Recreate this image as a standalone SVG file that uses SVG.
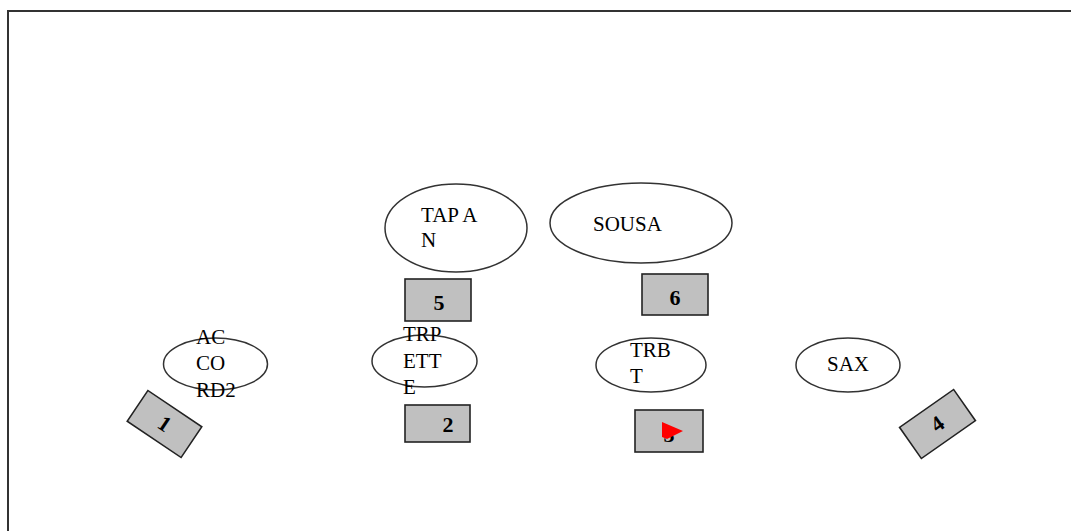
<svg xmlns="http://www.w3.org/2000/svg" width="1071" height="531" viewBox="0 0 1071 531">
<style>
.frame{fill:none;stroke:#333;stroke-width:2}
.ell{fill:#fff;stroke:#333;stroke-width:1.5}
.box{fill:#c0c0c0;stroke:#222;stroke-width:1.6}
.lbl{font-family:"Liberation Serif","Times New Roman",serif;font-size:21px;fill:#000}
.num{font-family:"Liberation Serif","Times New Roman",serif;font-size:22px;font-weight:bold;fill:#000;text-anchor:middle}
</style>
<rect width="1071" height="531" fill="#fff"/>
<rect class="frame" x="8" y="11" width="1100" height="600"/>
<g id="connectors"/>
<g id="node-tapan">
<ellipse class="ell" cx="456" cy="228" rx="71" ry="44"/>
<text class="lbl" x="421" y="222">TAP A</text>
<text class="lbl" x="421" y="247">N</text>
</g>
<g id="node-sousa">
<ellipse class="ell" cx="641" cy="223" rx="91" ry="40"/>
<text class="lbl" x="593" y="231">SOUSA</text>
</g>
<g id="node-box5">
<rect class="box" x="405" y="279" width="66" height="42"/>
<text class="num" x="439" y="310">5</text>
</g>
<g id="node-box6">
<rect class="box" x="642" y="274" width="66" height="41"/>
<text class="num" x="675" y="305">6</text>
</g>
<g id="node-accord2">
<ellipse class="ell" cx="215.5" cy="364" rx="52" ry="26"/>
<text class="lbl" x="196" y="344">AC</text>
<text class="lbl" x="196" y="370">CO</text>
<text class="lbl" x="196" y="397">RD2</text>
</g>
<g id="node-trpette">
<ellipse class="ell" cx="424.5" cy="361" rx="52.5" ry="26"/>
<text class="lbl" x="403" y="341">TRP</text>
<text class="lbl" x="403" y="368">ETT</text>
<text class="lbl" x="403" y="394">E</text>
</g>
<g id="node-trbt">
<ellipse class="ell" cx="651" cy="365" rx="55" ry="27"/>
<text class="lbl" x="630" y="357">TRB</text>
<text class="lbl" x="630" y="383">T</text>
</g>
<g id="node-sax">
<ellipse class="ell" cx="848" cy="365" rx="52" ry="27"/>
<text class="lbl" x="848" y="371" text-anchor="middle">SAX</text>
</g>
<g id="node-box1" transform="translate(164.5 424) rotate(34)">
<rect class="box" x="-32.5" y="-18.5" width="65" height="37"/>
<text class="num" x="0" y="7">1</text>
</g>
<g id="node-box2">
<rect class="box" x="405" y="405" width="65" height="37"/>
<text class="num" x="448" y="432">2</text>
</g>
<g id="node-box3">
<rect class="box" x="635" y="410" width="68" height="42"/>
<text class="num" x="669" y="442">3</text>
<polygon points="662,422 683,431 667,439 662,437" fill="#ff0000"/>
</g>
<g id="node-box4" transform="translate(937.5 424) rotate(-35)">
<rect class="box" x="-33" y="-19" width="66" height="38"/>
<text class="num" x="0" y="7">4</text>
</g>
</svg>
